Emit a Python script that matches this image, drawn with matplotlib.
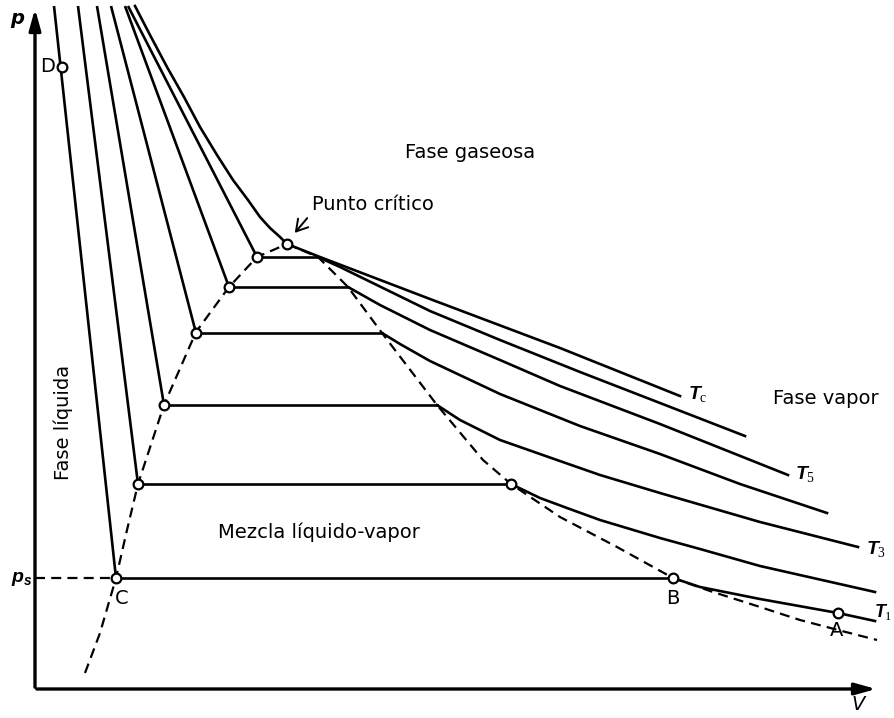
import matplotlib.pyplot as plt

plt.rcParams['font.family'] = ['DejaVu Sans']
plt.rcParams['mathtext.fontset'] = 'custom'
plt.rcParams['mathtext.it'] = 'Liberation Sans:italic:bold'
plt.rcParams['mathtext.rm'] = 'Liberation Serif'

# isotherms T1..T6 (liquid branch top V, saturation points, tie-line pressure)
liq_top_V = [54, 78, 97, 111, 125, 128]
liq_top_p = 712
sat_liq_V = [116, 138, 164, 196, 229, 257]
sat_vap_V = [673, 511, 437, 382, 348, 318]
sat_p = [140, 234, 313, 385, 431, 461]

# vapor branches beyond the dome
T1_V = [673, 700, 760, 838, 875]
T1_p = [140, 131, 119, 105, 97]
T2_V = [511, 540, 567, 600, 660, 700, 760, 875]
T2_p = [234, 220, 210, 198, 180, 169, 152, 126]
T3_V = [437, 460, 500, 557, 600, 660, 760, 858]
T3_p = [313, 298, 278, 258, 243, 225, 196, 171]
T4_V = [382, 400, 430, 500, 580, 660, 740, 827]
T4_p = [385, 374, 357, 324, 292, 264, 234, 205]
T5_V = [348, 380, 430, 500, 560, 660, 788]
T5_p = [431, 413, 388, 358, 332, 294, 243]
T6_V = [318, 340, 430, 500, 580, 660, 745]
T6_p = [461, 451, 407, 378, 346, 315, 282]
vapor_V = [T1_V, T2_V, T3_V, T4_V, T5_V, T6_V]
vapor_p = [T1_p, T2_p, T3_p, T4_p, T5_p, T6_p]

# critical isotherm
Tc_V = [135, 150, 167, 184, 200, 217, 233, 248, 260, 270, 280, 287, 320, 430, 560, 660, 680]
Tc_p = [712, 683, 651, 621, 591, 563, 538, 518, 501, 490, 481, 474, 461, 419, 370, 330, 322]
crit_V, crit_p = 287, 474

# saturation dome (dashed)
dome_left_V = [85, 100, 116, 127, 138, 164, 196, 229, 257, 287]
dome_left_p = [45, 85, 140, 188, 234, 313, 386, 431, 461, 474]
dome_right_V = [287, 318, 348, 382, 437, 483, 511, 560, 617, 673, 710, 760, 800, 838, 877]
dome_right_p = [474, 461, 431, 385, 313, 258, 234, 201, 171, 140, 127, 111, 98, 88, 78]

D_pt = (62, 651)
A_pt = (838, 105)

fig = plt.figure(figsize=(8.94, 7.18), dpi=100)
ax = fig.add_axes([0, 0, 1, 1])
ax.set_xlim(0, 894)
ax.set_ylim(0, 718)
ax.axis('off')

lw = 1.9
dash = (0, (4.5, 2.8))

# axes with arrows
ax.annotate('', xy=(35, 712), xytext=(35, 28),
            arrowprops=dict(arrowstyle='-|>,head_length=0.9,head_width=0.25', lw=2.4, color='black', mutation_scale=14))
ax.annotate('', xy=(879, 29), xytext=(34, 29),
            arrowprops=dict(arrowstyle='-|>,head_length=0.9,head_width=0.25', lw=2.4, color='black', mutation_scale=14))

# isotherms
for i in range(6):
    ax.plot([liq_top_V[i], sat_liq_V[i]], [liq_top_p, sat_p[i]], color='black', lw=lw, solid_capstyle='butt')
    ax.plot([sat_liq_V[i], sat_vap_V[i]], [sat_p[i], sat_p[i]], color='black', lw=lw)
    ax.plot(vapor_V[i], vapor_p[i], color='black', lw=lw, solid_joinstyle='round')
ax.plot(Tc_V, Tc_p, color='black', lw=lw, solid_joinstyle='round')

# dome and p_s line
ax.plot(dome_left_V, dome_left_p, color='black', lw=1.6, linestyle=dash)
ax.plot(dome_right_V, dome_right_p, color='black', lw=1.6, linestyle=dash)
ax.plot([35, sat_liq_V[0]], [sat_p[0], sat_p[0]], color='black', lw=1.6, linestyle=dash)

# open circles
mk = dict(marker='o', ms=7, mfc='white', mec='black', mew=1.6, linestyle='none', zorder=5)
ax.plot(sat_liq_V, sat_p, **mk)
ax.plot([crit_V, sat_vap_V[0], sat_vap_V[1], D_pt[0], A_pt[0]],
        [crit_p, sat_p[0], sat_p[1], D_pt[1], A_pt[1]], **mk)

fs = 14
ax.text(17, 700, 'p', fontsize=14, fontweight='bold', fontstyle='italic', ha='center', va='center')
ax.text(858, 14, 'V', fontsize=14, fontstyle='italic', ha='center', va='center')
ax.text(22, 140, r'$p_s$', fontsize=14, ha='center', va='center')
ax.text(55, 651, 'D', fontsize=fs, ha='right', va='center')
ax.text(122, 120, 'C', fontsize=fs, ha='center', va='center')
ax.text(673, 120, 'B', fontsize=fs, ha='center', va='center')
ax.text(837, 88, 'A', fontsize=fs, ha='center', va='center')

ax.text(405, 565, 'Fase gaseosa', fontsize=fs, ha='left', va='center')
ax.text(312, 513, 'Punto crítico', fontsize=fs, ha='left', va='center')
ax.annotate('', xy=(293, 483), xytext=(309, 502),
            arrowprops=dict(arrowstyle='->,head_length=0.5,head_width=0.3', lw=1.4, color='black', mutation_scale=16))
ax.text(773, 320, 'Fase vapor', fontsize=fs, ha='left', va='center')
ax.text(63, 296, 'Fase líquida', fontsize=fs, rotation=90, ha='center', va='center')
ax.text(218, 186, 'Mezcla líquido-vapor', fontsize=fs, ha='left', va='center')

ax.text(688, 324, r'$T_{\mathrm{c}}$', fontsize=14, ha='left', va='center')
ax.text(795, 244, r'$T_{5}$', fontsize=14, ha='left', va='center')
ax.text(866, 169, r'$T_{3}$', fontsize=14, ha='left', va='center')
ax.text(893, 106, r'$T_{1}$', fontsize=13, ha='right', va='center')

fig.savefig('out.png', dpi=100)
